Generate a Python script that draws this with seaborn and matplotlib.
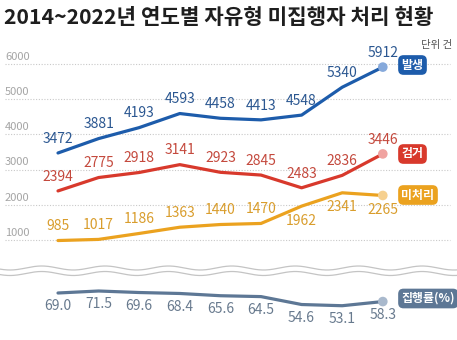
import numpy as np
import pandas as pd
import matplotlib
matplotlib.use("Agg")
import matplotlib.pyplot as plt
import seaborn as sns

# ---- data -------------------------------------------------------------
years = [2014, 2015, 2016, 2017, 2018, 2019, 2020, 2021, 2022]
occurred = [3472, 3881, 4193, 4593, 4458, 4413, 4548, 5340, 5912]   # 발생
arrested = [2394, 2775, 2918, 3141, 2923, 2845, 2483, 2836, 3446]   # 검거
pending = [985, 1017, 1186, 1363, 1440, 1470, 1962, 2341, 2265]     # 미처리
exec_rate = [69.0, 71.5, 69.6, 68.4, 65.6, 64.5, 54.6, 53.1, 58.3]  # 집행률(%)
series_names = ["발생", "검거", "미처리"]
rate_name = "집행률(%)"
y_ticks = [1000, 2000, 3000, 4000, 5000, 6000]
title = "2014~2022년 연도별 자유형 미집행자 처리 현황"
unit = "단위 건"

# ---- style --------------------------------------------------------------
sns.set_style("white")
plt.rcParams["font.family"] = ["Noto Sans CJK KR", "DejaVu Sans"]

W, H = 457, 340
line_col = {"발생": "#1d5cab", "검거": "#d8392c", "미처리": "#eba21f", rate_name: "#5d7795"}
dot_col = {"발생": "#86a9db", "검거": "#f0a3a0", "미처리": "#f6d08f", rate_name: "#a9b9cd"}
text_col = {"발생": "#2b5791", "검거": "#c4493d", "미처리": "#d99d2c", rate_name: "#687a8e"}

fig = plt.figure(figsize=(W / 100, H / 100), dpi=100)
fig.patch.set_facecolor("white")

# pixel helpers: x index -> column
x0_px, dx_px = 58.0, 40.6
def xlim_for():
    return (-x0_px / dx_px, (W - x0_px) / dx_px)

# main panel occupies the whole figure; data scale fixed so that
# 1000 sits at row 240 and 6000 at row 64
k = (240 - 64) / 5000.0
top_val = 6000 + 64 / k
bot_val = 1000 - (H - 240) / k

ax = fig.add_axes([0, 0, 1, 1])
ax.set_xlim(*xlim_for())
ax.set_ylim(bot_val, top_val)
ax.axis("off")

# rate panel: 69.0 at row 293, 0.8 px per percentage point
kr = 0.8
rate_top = 69.0 + 293 / kr
rate_bot = 69.0 - (H - 293) / kr
axr = fig.add_axes([0, 0, 1, 1])
axr.set_xlim(*xlim_for())
axr.set_ylim(rate_bot, rate_top)
axr.axis("off")
axr.patch.set_alpha(0)

# gridlines and tick labels
for v in y_ticks:
    ax.axhline(v, xmin=5 / W, xmax=450 / W, color="#c9c9c9", lw=0.8,
               ls=(0, (1, 1.5)), zorder=0)
    ax.annotate(str(v), xy=(5 / W, v), xycoords=("axes fraction", "data"),
                xytext=(0, 5.2), textcoords="offset points", ha="left",
                va="center", fontsize=8, color="#a5a5a5")

# long-form table for seaborn
idx = list(range(len(years)))
df = pd.DataFrame({
    "i": idx * 3,
    "value": occurred + arrested + pending,
    "series": sum([[n] * len(years) for n in series_names], []),
})
sns.lineplot(data=df, x="i", y="value", hue="series", palette=line_col,
             hue_order=series_names, lw=2.3, legend=False, ax=ax,
             solid_joinstyle="round", solid_capstyle="round", zorder=3)

rdf = pd.DataFrame({"i": idx, "value": exec_rate})
sns.lineplot(data=rdf, x="i", y="value", color=line_col[rate_name], lw=2.3,
             legend=False, ax=axr, solid_joinstyle="round",
             solid_capstyle="round", zorder=3)

# end-point dots
for name, vals in zip(series_names, [occurred, arrested, pending]):
    ax.scatter([idx[-1]], [vals[-1]], s=48, color=dot_col[name], zorder=4,
               edgecolors="none")
axr.scatter([idx[-1]], [exec_rate[-1]], s=48, color=dot_col[rate_name],
            zorder=4, edgecolors="none")

# value labels
below_pending = {6, 7, 8}
for name, vals in zip(series_names, [occurred, arrested, pending]):
    for i, v in zip(idx, vals):
        up = not (name == "미처리" and i in below_pending)
        ax.annotate(str(v), xy=(i, v), xytext=(0, 10.2 if up else -10.5),
                    textcoords="offset points", ha="center", va="center",
                    fontsize=10, color=text_col[name], zorder=5)
for i, v in zip(idx, exec_rate):
    axr.annotate(f"{v:.1f}", xy=(i, v), xytext=(0, -9.5),
                 textcoords="offset points", ha="center", va="center",
                 fontsize=10, color=text_col[rate_name], zorder=5)

# overlay in pixel coordinates for title, unit, tags and the axis break
ov = fig.add_axes([0, 0, 1, 1])
ov.set_xlim(0, W)
ov.set_ylim(H, 0)
ov.axis("off")
ov.patch.set_alpha(0)

ov.text(4, 17, title, ha="left", va="center", fontsize=15.3,
        fontweight="bold", color="#1e1e1e")
ov.text(421, 45, unit, ha="left", va="center", fontsize=7.5, color="#555555")

# axis-break waves
xs = np.linspace(0, W, 600)
wave = 2.0 * np.cos(2 * np.pi * (xs - 10) / 63.4)
for base in (268, 273.5):
    ov.plot(xs, base + wave, color="#c4c4c4", lw=0.9, zorder=1)

# series tags next to the last points
tags = [("발생", 65), ("검거", 154), ("미처리", 195), (rate_name, 298.5)]
for name, yc in tags:
    ov.text(401.5, yc, name, ha="left", va="center", fontsize=8.6,
            fontweight="bold", color="white", zorder=6,
            bbox=dict(boxstyle="round,pad=0.28,rounding_size=0.45",
                      fc=line_col[name], ec="none"))

fig.savefig("out.png", dpi=100, facecolor="white")
